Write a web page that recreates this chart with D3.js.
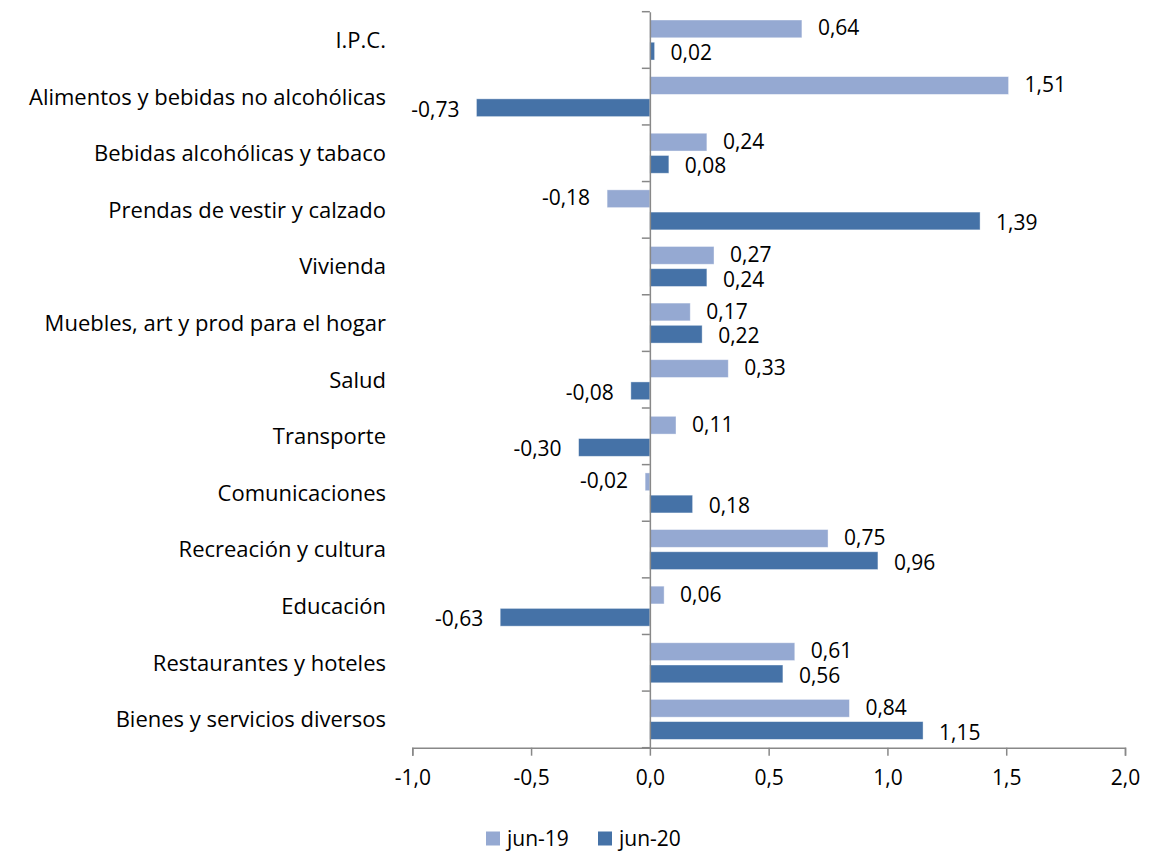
<!DOCTYPE html>
<html>
<head>
<meta charset="utf-8">
<script src="https://cdn.jsdelivr.net/npm/d3@7"></script>
<style>
  body { margin: 0; background: #fff; }
  svg { font-family: "Open Sans", Lato, sans-serif; }
</style>
</head>
<body>
<div id="chart"></div>
<script>
const categories = [
  'I.P.C.',
  'Alimentos y bebidas no alcohólicas',
  'Bebidas alcohólicas y tabaco',
  'Prendas de vestir y calzado',
  'Vivienda',
  'Muebles, art y prod para el hogar',
  'Salud',
  'Transporte',
  'Comunicaciones',
  'Recreación y cultura',
  'Educación',
  'Restaurantes y hoteles',
  'Bienes y servicios diversos',
];
const jun19 = [0.64, 1.51, 0.24, -0.18, 0.27, 0.17, 0.33, 0.11, -0.02, 0.75, 0.06, 0.61, 0.84];
const jun20 = [0.02, -0.73, 0.08, 1.39, 0.24, 0.22, -0.08, -0.30, 0.18, 0.96, -0.63, 0.56, 1.15];
const seriesNames = ['jun-19', 'jun-20'];
const xTicks = [-1, -0.5, 0, 0.5, 1, 1.5, 2];

const colors = ['#95a9d2', '#4572a7'];
const width = 1149, height = 853;
const fontSize = 21;
const catFontSize = 22;
// Spanish decimal comma, plain hyphen for negatives
const fmt = v => d3.format('.2f')(v).replace('.', ',').replace('−', '-');
const fmtTick = v => d3.format('.1f')(v).replace('.', ',').replace('−', '-');

const svg = d3.select('#chart').append('svg')
  .attr('width', width)
  .attr('height', height);

const x = d3.scaleLinear().domain([-1, 2]).range([412.3, 1125]);
const y = d3.scaleBand().domain(categories).range([11.7, 747.7]);
const inner = d3.scaleBand().domain(seriesNames).range([8.3, y.bandwidth() - 8.3]).paddingInner(0.2);

const rows = categories.map((c, i) => ({ cat: c, values: [jun19[i], jun20[i]] }));

// bars + value labels
const g = svg.append('g');
rows.forEach(r => {
  r.values.forEach((v, si) => {
    const y0 = y(r.cat) + inner(seriesNames[si]);
    g.append('rect')
      .attr('x', Math.min(x(0), x(v)))
      .attr('y', y0)
      .attr('width', Math.abs(x(v) - x(0)))
      .attr('height', inner.bandwidth())
      .attr('fill', colors[si])
      .attr('stroke', '#fff')
      .attr('stroke-opacity', 0.5)
      .attr('stroke-width', 0.8);

    g.append('text')
      .attr('x', v >= 0 ? x(v) + 16 : x(v) - 17)
      .attr('y', y0 + inner.bandwidth() / 2 + (si === 0 ? -1 : 1.5))
      .attr('dy', '0.36em')
      .attr('text-anchor', v >= 0 ? 'start' : 'end')
      .attr('font-size', fontSize)
      .attr('fill', '#000')
      .text(fmt(v));
  });
});

// x axis
const xAxis = svg.append('g')
  .attr('transform', `translate(0,${y.range()[1]})`)
  .call(d3.axisBottom(x).tickValues(xTicks).tickFormat(fmtTick).tickSize(8).tickPadding(14));
xAxis.select('.domain').attr('stroke', '#888').attr('stroke-width', 1.5);
xAxis.selectAll('.tick line').attr('stroke', '#888').attr('stroke-width', 1.5);
xAxis.selectAll('.tick text').attr('font-size', fontSize).attr('fill', '#000').attr('font-family', '"Open Sans"');

// y axis at zero
const yAxis = svg.append('g')
  .attr('transform', `translate(${x(0)},0)`)
  .call(d3.axisLeft(y).tickValues([]).tickSizeOuter(0));
yAxis.select('.domain').attr('stroke', '#888').attr('stroke-width', 1.5);
const yTicks = y.domain().map(d => y(d)).concat([y.range()[1]]);
yAxis.selectAll('.sep').data(yTicks).join('line')
  .attr('class', 'sep')
  .attr('x1', -8).attr('x2', 0)
  .attr('y1', d => d).attr('y2', d => d)
  .attr('stroke', '#888').attr('stroke-width', 1.5);

// category labels
svg.append('g').selectAll('text').data(categories).join('text')
  .attr('x', 386)
  .attr('y', d => y(d) + y.bandwidth() / 2)
  .attr('dy', '0.36em')
  .attr('text-anchor', 'end')
  .attr('font-size', catFontSize)
  .attr('fill', '#000')
  .text(d => d);

// legend
const legend = svg.append('g').attr('transform', 'translate(486,831.5)');
const legendX = [0, 112];
seriesNames.forEach((s, i) => {
  const lg = legend.append('g').attr('transform', `translate(${legendX[i]},0)`);
  lg.append('rect').attr('width', 14).attr('height', 14).attr('fill', colors[i]);
  lg.append('text').attr('x', 21).attr('y', 7).attr('dy', '0.36em')
    .attr('font-size', fontSize).attr('fill', '#000').text(s);
});
</script>
</body>
</html>
